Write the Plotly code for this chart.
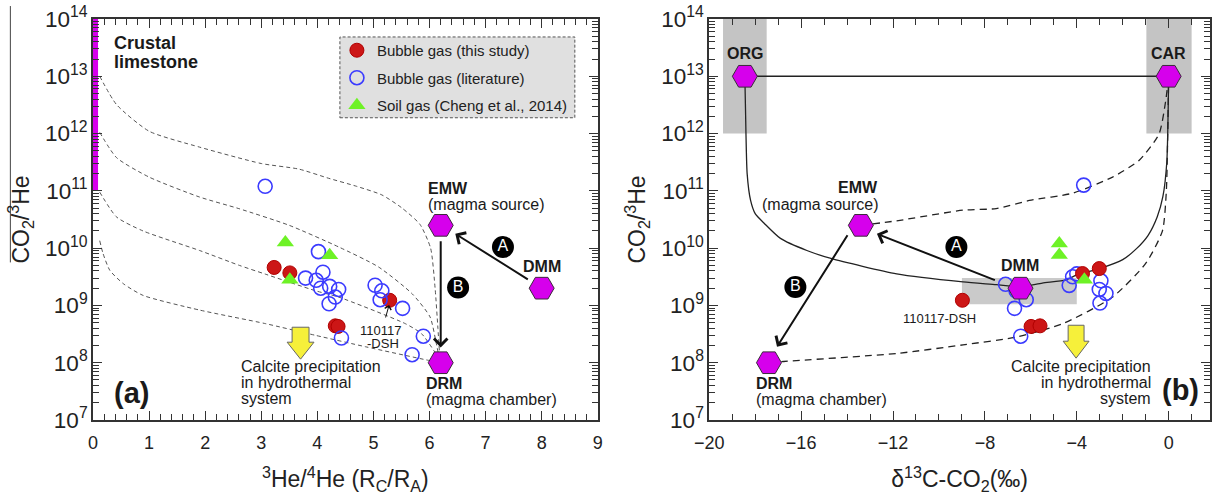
import math
import plotly.graph_objects as go

FONT = "Liberation Sans, Arial, sans-serif"

# ================= panel (a): 3He/4He (Rc/Ra) vs CO2/3He =================
A_RED_X = [3.23, 3.51, 5.29, 4.32, 4.37]
A_RED_Y = [4.6e9, 3.7e9, 1.23e9, 4.4e8, 4.3e8]

A_BLUE_X = [3.07, 4.02, 3.79, 4.10, 3.98, 4.06, 4.22, 4.38, 4.32, 4.21,
            5.03, 5.15, 5.12, 5.52, 5.89, 4.43, 5.69]
A_BLUE_Y = [1.2e11, 8.7e9, 3.0e9, 3.8e9, 2.75e9, 2.0e9, 2.15e9, 1.9e9, 1.4e9, 1.07e9,
            2.25e9, 1.8e9, 1.26e9, 8.9e8, 2.9e8, 2.7e8, 1.38e8]

A_GREEN_X = [3.43, 4.22, 3.51]
A_GREEN_Y = [1.25e10, 7.5e9, 2.8e9]

A_END_NAMES = ["EMW", "DMM", "DRM"]
A_END_X = [6.2, 8.0, 6.2]
A_END_Y = [2.5e10, 2.0e9, 1.0e8]

# mixing curves (crustal limestone -> DRM)
A_C1_X = [0.12, 0.42, 1.0, 1.9, 3.0, 3.67, 4.2, 4.7, 5.15, 5.5, 5.83, 6.02, 6.1, 6.15, 6.19]
A_C1_Y = [1e13, 3.2e12, 1.1e12, 5.8e11, 3.0e11, 2.4e11, 1.66e11, 1.2e11, 8.5e10, 5.1e10,
          2.6e10, 1.0e10, 2.0e9, 4.0e8, 1.0e8]
A_C2_X = [0.12, 0.42, 1.0, 1.9, 2.6, 3.5, 4.38, 5.09, 5.69, 6.01, 6.12, 6.19]
A_C2_Y = [1.05e12, 3.8e11, 1.74e11, 7.8e10, 4.9e10, 2.5e10, 1.05e10, 4.7e9, 1.6e9,
          6.3e8, 2.2e8, 1.0e8]
A_C3_X = [0.12, 0.42, 0.89, 1.9, 2.61, 3.08, 3.97, 4.38, 5.57, 5.86, 6.19]
A_C3_Y = [9.5e10, 3.5e10, 2.0e10, 9.1e9, 5.0e9, 3.5e9, 1.8e9, 1.4e9, 4.8e8, 3.2e8, 1.1e8]
A_C4_X = [0.12, 0.18, 0.30, 0.54, 0.89, 1.9, 3.08, 3.97, 4.86, 5.98, 6.19]
A_C4_Y = [1.35e10, 8.0e9, 4.1e9, 2.4e9, 1.5e9, 8.3e8, 4.8e8, 3.0e8, 1.9e8, 1.1e8, 1.0e8]

# ================= panel (b): d13C-CO2 vs CO2/3He =================
B_RED_X = [-3.02, -3.75, -8.98, -5.99, -5.60]
B_RED_Y = [4.4e9, 3.6e9, 1.23e9, 4.3e8, 4.4e8]

B_BLUE_X = [-3.70, -7.10, -6.64, -6.20, -6.71, -6.44, -4.33, -4.18, -4.00,
            -2.95, -3.02, -2.73, -2.99]
B_BLUE_Y = [1.26e11, 2.34e9, 1.78e9, 1.26e9, 8.9e8, 2.9e8, 2.24e9, 3.16e9, 3.55e9,
            2.69e9, 1.9e9, 1.62e9, 1.1e9]

B_GREEN_X = [-4.76, -4.76, -3.67]
B_GREEN_Y = [1.2e10, 7.6e9, 2.8e9]

B_END_NAMES = ["ORG", "CAR", "EMW", "DMM", "DRM"]
B_END_X = [-18.45, 0.0, -13.4, -6.45, -17.4]
B_END_Y = [1e13, 1e13, 2.5e10, 2.0e9, 1.0e8]

# ORG - DMM - CAR mixing curve (solid)
B_S_X = [-18.45, -18.42, -18.35, -18.2, -18.0, -17.6, -16.9, -15.75, -14.7, -11.84,
         -8.95, -7.5, -6.45, -5.5, -4.47, -4.0, -3.0, -2.0, -1.4, -0.9, -0.5, -0.25,
         -0.08, 0.0]
B_S_Y = [1e13, 2.5e12, 2.0e11, 6.8e10, 4.0e10, 2.7e10, 1.48e10, 9.1e9, 6.6e9, 3.55e9,
         2.57e9, 2.3e9, 2.1e9, 2.45e9, 2.8e9, 3.4e9, 4.4e9, 6.3e9, 9.8e9, 1.66e10,
         3.5e10, 8.0e10, 3.2e11, 1e13]
# ORG - CAR line
B_H_X = [-18.45, 0.0]
B_H_Y = [1e13, 1e13]
# EMW - CAR (dashed)
B_D1_X = [-13.4, -11.84, -8.95, -7.51, -6.06, -4.18, -2.44, -1.29, -0.42, -0.13, 0.0]
B_D1_Y = [2.5e10, 3.0e10, 4.6e10, 4.9e10, 6.8e10, 9.1e10, 1.74e11, 3.4e11, 9.8e11,
          3.7e12, 1e13]
# DRM - CAR (dashed)
B_D2_X = [-17.4, -16.76, -11.84, -8.95, -6.64, -4.61, -2.44, -1.0, -0.27, -0.1, -0.04, 0.0]
B_D2_Y = [1.0e8, 1.05e8, 1.45e8, 2.05e8, 2.8e8, 4.8e8, 1.4e9, 5.4e9, 2.0e10, 1e11,
          1e12, 1e13]

# reference boxes (x range, y range)
B_BOX_ORG = ([-19.4, -17.5], [1e12, 1e14])
B_BOX_CAR = ([-0.97, 1.0], [1e12, 1e14])
B_BOX_DMM = ([-9.0, -4.0], [1.05e9, 3.0e9])
A_LIMESTONE = ([0, 0.09], [1e11, 1e14])

# axis ranges
A_XRANGE = [0, 9]
B_XRANGE = [-20, 1.8]
Y_RANGE_EXP = [7, 14]

# ---------------------------------------------------------------
MAGENTA = "#d600ec"
RED = "#cc1616"
BLUE = "#3b3bff"
GREEN = "#6ef226"

W, H = 1218, 498
ML, MR, MT, MB = 93, 3, 18, 78
PW = W - ML - MR
PH = H - MT - MB


def P(px, py):
    return (px - ML) / PW, (H - MB - py) / PH


fig = go.Figure()

# ---- panel (a) curves
for cx, cy in [(A_C1_X, A_C1_Y), (A_C2_X, A_C2_Y), (A_C3_X, A_C3_Y), (A_C4_X, A_C4_Y)]:
    fig.add_trace(go.Scatter(x=cx, y=cy, mode="lines", xaxis="x", yaxis="y",
                             line=dict(color="#555", width=1, dash="4px,3px",
                                       shape="spline", smoothing=0.6),
                             showlegend=False, hoverinfo="skip"))

# ---- panel (b) curves
fig.add_trace(go.Scatter(x=B_H_X, y=B_H_Y, mode="lines", xaxis="x2", yaxis="y2",
                         line=dict(color="#222", width=1.4), showlegend=False))
fig.add_trace(go.Scatter(x=B_S_X, y=B_S_Y, mode="lines", xaxis="x2", yaxis="y2",
                         line=dict(color="#222", width=1.3, shape="spline", smoothing=0.6),
                         showlegend=False))
for cx, cy in [(B_D1_X, B_D1_Y), (B_D2_X, B_D2_Y)]:
    fig.add_trace(go.Scatter(x=cx, y=cy, mode="lines", xaxis="x2", yaxis="y2",
                             line=dict(color="#222", width=1.3, dash="7px,5px",
                                       shape="spline", smoothing=0.6),
                             showlegend=False))

# ---- data points
red_m = dict(symbol="circle", size=14, color=RED, line=dict(color="#b00000", width=1))
blue_m = dict(symbol="circle-open", size=14, color=BLUE, line=dict(color=BLUE, width=1.6))
green_m = dict(symbol="triangle-up", size=15, color=GREEN, line=dict(color=GREEN, width=0))

fig.add_trace(go.Scatter(x=A_RED_X, y=A_RED_Y, mode="markers", xaxis="x", yaxis="y",
                         marker=red_m, name="Bubble gas (this study)", legendgroup="g1"))
fig.add_trace(go.Scatter(x=A_BLUE_X, y=A_BLUE_Y, mode="markers", xaxis="x", yaxis="y",
                         marker=blue_m, name="Bubble gas (literature)", legendgroup="g2"))
fig.add_trace(go.Scatter(x=A_GREEN_X, y=A_GREEN_Y, mode="markers", xaxis="x", yaxis="y",
                         marker=green_m, name="Soil gas (Cheng et al., 2014)", legendgroup="g3"))

fig.add_trace(go.Scatter(x=B_BLUE_X, y=B_BLUE_Y, mode="markers", xaxis="x2", yaxis="y2",
                         marker=blue_m, showlegend=False))
fig.add_trace(go.Scatter(x=B_RED_X, y=B_RED_Y, mode="markers", xaxis="x2", yaxis="y2",
                         marker=red_m, showlegend=False))
fig.add_trace(go.Scatter(x=B_GREEN_X, y=B_GREEN_Y, mode="markers", xaxis="x2", yaxis="y2",
                         marker=green_m, showlegend=False))

# ---- end members
hex_m = dict(symbol="hexagon2", size=25, color=MAGENTA, line=dict(color="#3a2a3a", width=1))
fig.add_trace(go.Scatter(x=A_END_X, y=A_END_Y, mode="markers", xaxis="x", yaxis="y",
                         marker=hex_m, showlegend=False, text=A_END_NAMES))
fig.add_trace(go.Scatter(x=B_END_X, y=B_END_Y, mode="markers", xaxis="x2", yaxis="y2",
                         marker=hex_m, showlegend=False, text=B_END_NAMES))

# ---- circled process labels
CIRC_A_X, CIRC_A_Y, CIRC_A_T = [7.31, 6.51], [1.05e10, 2.05e9], ["A", "B"]
CIRC_B_X, CIRC_B_Y, CIRC_B_T = [-9.24, -16.25], [1.05e10, 2.1e9], ["A", "B"]
for cx, cy, ct, xa, ya in [(CIRC_A_X, CIRC_A_Y, CIRC_A_T, "x", "y"),
                           (CIRC_B_X, CIRC_B_Y, CIRC_B_T, "x2", "y2")]:
    fig.add_trace(go.Scatter(x=cx, y=cy, mode="markers+text", xaxis=xa, yaxis=ya,
                             text=ct, textposition="middle center",
                             textfont=dict(family=FONT, size=16, color="white"),
                             marker=dict(symbol="circle", size=22, color="black"),
                             showlegend=False))

L = math.log10
shapes = []
# crustal limestone bar
shapes.append(dict(type="rect", xref="x", yref="y", x0=A_LIMESTONE[0][0], x1=A_LIMESTONE[0][1],
                   y0=A_LIMESTONE[1][0], y1=A_LIMESTONE[1][1],
                   fillcolor=MAGENTA, line=dict(width=0), layer="below"))
# grey boxes panel (b)
for (bx, by), col in [(B_BOX_ORG, "#c4c4c4"), (B_BOX_CAR, "#c4c4c4"), (B_BOX_DMM, "#cacaca")]:
    shapes.append(dict(type="rect", xref="x2", yref="y2", x0=bx[0], x1=bx[1],
                       y0=by[0], y1=by[1], fillcolor=col, line=dict(width=0),
                       layer="below"))

# legend box (dashed)
lx0, ly0 = P(341, 117)
lx1, ly1 = P(577, 36)
shapes.append(dict(type="rect", xref="paper", yref="paper", x0=lx0, x1=lx1, y0=ly0, y1=ly1,
                   fillcolor="#e0e0e0", line=dict(color="#555", width=1, dash="3px,2px"),
                   layer="above"))


def yellow_arrow(cx, top, width, headw, headtop, tip):
    pts = [P(cx - width / 2, top), P(cx + width / 2, top), P(cx + width / 2, headtop),
           P(cx + headw / 2, headtop), P(cx, tip), P(cx - headw / 2, headtop),
           P(cx - width / 2, headtop)]
    path = "M " + " L ".join(f"{x:.5f},{y:.5f}" for x, y in pts) + " Z"
    return dict(type="path", xref="paper", yref="paper", path=path,
                fillcolor="#f6f03a", line=dict(color="#666", width=1), layer="above")


shapes.append(yellow_arrow(301.5, 327, 17, 27, 342, 359))
shapes.append(yellow_arrow(1080.5, 325, 16, 26, 341, 358))

# odd overline next to left y title
ox, oy0 = P(10, 5)
_, oy1 = P(10, 262)
shapes.append(dict(type="line", xref="paper", yref="paper", x0=ox, x1=ox, y0=oy0, y1=oy1,
                   line=dict(color="#444", width=1)))

ann = []


def txt(x, y, s, xref="x", yref="y", size=16, bold=False, xanchor="center", yanchor="middle", align="center"):
    ann.append(dict(x=x, y=L(y), xref=xref, yref=yref, text=(f"<b>{s}</b>" if bold else s),
                    showarrow=False, xanchor=xanchor, yanchor=yanchor, align=align,
                    font=dict(family=FONT, size=size, color="#1a1a1a")))


def arrow(x0, y0, x1, y1, xref="x", yref="y", width=2.0, size=1.3, standoff=0):
    ann.append(dict(x=x1, y=L(y1), ax=x0, ay=L(y0), xref=xref, yref=yref, axref=xref,
                    ayref=yref, text="", showarrow=True, arrowhead=4, arrowsize=size,
                    arrowwidth=width, arrowcolor="#111", standoff=standoff))


# ---- panel (a) texts
txt(0.34, 10 ** 13.58, "Crustal", size=18, bold=True, xanchor="left")
txt(0.34, 10 ** 13.25, "limestone", size=18, bold=True, xanchor="left")
txt(5.93, 10 ** 11.04, "EMW", size=16, bold=True, xanchor="left")
txt(5.93, 10 ** 10.76, "(magma source)", size=16, xanchor="left")
txt(8.0, 10 ** 9.68, "DMM", size=16, bold=True)
txt(5.91, 10 ** 7.64, "DRM", size=16, bold=True, xanchor="left")
txt(5.91, 10 ** 7.35, "(magma chamber)", size=16, xanchor="left")
txt(5.13, 10 ** 8.57, "110117", size=13)
txt(5.17, 10 ** 8.34, "-DSH", size=13)
txt(2.61, 10 ** 7.93, "Calcite precipitation", size=16, xanchor="left")
txt(2.61, 10 ** 7.65, "in hydrothermal", size=16, xanchor="left")
txt(2.61, 10 ** 7.37, "system", size=16, xanchor="left")
txt(0.68, 10 ** 7.47, "(a)", size=29, bold=True)
arrow(8.0 - 0.22, 2.75e9, 6.46, 1.78e10)
arrow(6.2, 1.4e10, 6.2, 1.85e8)
arrow(5.21, 5.8e8, 5.28, 1.02e9, width=1, size=1.3)

# ---- panel (b) texts
txt(-18.45, 10 ** 13.39, "ORG", xref="x2", yref="y2", size=16, bold=True)
txt(0.0, 10 ** 13.39, "CAR", xref="x2", yref="y2", size=16, bold=True)
txt(-12.58, 10 ** 11.05, "EMW", xref="x2", yref="y2", size=16, bold=True, xanchor="right")
txt(-12.58, 10 ** 10.76, "(magma source)", xref="x2", yref="y2", size=16, xanchor="right")
txt(-6.47, 10 ** 9.70, "DMM", xref="x2", yref="y2", size=16, bold=True)
txt(-9.98, 10 ** 8.77, "110117-DSH", xref="x2", yref="y2", size=13)
txt(-18.06, 10 ** 7.64, "DRM", xref="x2", yref="y2", size=16, bold=True, xanchor="left")
txt(-18.06, 10 ** 7.35, "(magma chamber)", xref="x2", yref="y2", size=16, xanchor="left")
txt(-0.69, 10 ** 7.93, "Calcite precipitation", xref="x2", yref="y2", size=16, xanchor="right")
txt(-0.69, 10 ** 7.65, "in hydrothermal", xref="x2", yref="y2", size=16, xanchor="right")
txt(-0.69, 10 ** 7.37, "system", xref="x2", yref="y2", size=16, xanchor="right")
txt(0.51, 10 ** 7.52, "(b)", xref="x2", yref="y2", size=29, bold=True)
arrow(-7.5, 2.7e9, -12.7, 1.78e10, xref="x2", yref="y2")
arrow(-13.94, 1.78e10, -17.05, 1.9e8, xref="x2", yref="y2")

common = dict(showline=True, linecolor="#333", linewidth=1.5, mirror="ticks",
              ticks="inside", ticklen=9, tickwidth=1.2, tickcolor="#333",
              showgrid=False, zeroline=False,
              tickfont=dict(family=FONT, size=18, color="#222"))
minor_lin = dict(ticks="inside", ticklen=6, tickwidth=1, tickcolor="#333", showgrid=False)

fig.update_layout(
    width=W, height=H,
    margin=dict(l=ML, r=MR, t=MT, b=MB),
    paper_bgcolor="white", plot_bgcolor="white",
    font=dict(family=FONT, color="#222"),
    shapes=shapes, annotations=ann,
    legend=dict(x=P(338, 0)[0], y=P(0, 33)[1], xanchor="left", yanchor="top",
                bgcolor="rgba(0,0,0,0)", borderwidth=0, tracegroupgap=5,
                font=dict(family=FONT, size=15, color="#222")),
    xaxis=dict(domain=[0, (600 - ML) / PW], range=A_XRANGE, tick0=0, dtick=1,
               minor=dict(dtick=0.2, **minor_lin), ticklabelstandoff=6,
               title=dict(text="<sup>3</sup>He/<sup>4</sup>He (R<sub>C</sub>/R<sub>A</sub>)",
                          font=dict(family=FONT, size=23, color="#222"), standoff=19),
               **common),
    yaxis=dict(domain=[0, 1], type="log", range=Y_RANGE_EXP, dtick=1, exponentformat="power",
               minor=dict(dtick="D1", **minor_lin), anchor="x",
               title=dict(text="CO<sub>2</sub>/<sup>3</sup>He",
                          font=dict(family=FONT, size=23, color="#222"), standoff=9),
               **common),
    xaxis2=dict(domain=[(712 - ML) / PW, 1], range=B_XRANGE, tick0=0, dtick=4, anchor="y2",
                minor=dict(dtick=1, **minor_lin), ticklabelstandoff=6,
                title=dict(text="δ<sup>13</sup>C-CO<sub>2</sub>(‰)",
                           font=dict(family=FONT, size=23, color="#222"), standoff=19),
                **common),
    yaxis2=dict(domain=[0, 1], type="log", range=Y_RANGE_EXP, dtick=1, exponentformat="power",
                minor=dict(dtick="D1", **minor_lin), anchor="x2",
                title=dict(text="CO<sub>2</sub>/<sup>3</sup>He",
                           font=dict(family=FONT, size=23, color="#222"), standoff=9),
                **common),
)

fig.write_html("out.html", config={"displayModeBar": False},
               post_script="document.body.style.margin='0px';")
